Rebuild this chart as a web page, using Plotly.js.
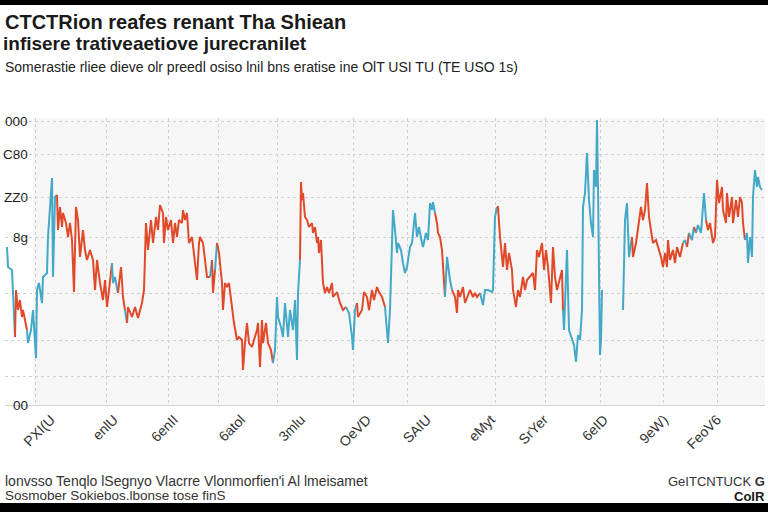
<!DOCTYPE html>
<html><head><meta charset="utf-8">
<script src="https://cdn.plot.ly/plotly-3.0.1.min.js"></script>
<style>html,body{margin:0;padding:0;background:#fff;overflow:hidden} #chart{width:768px;height:512px;}</style>
</head><body><div id="chart"></div>
<script>
const week = [2,3,7,8,10,11,13,15,17,18,22,23,26,28,31,32,34,37,38,42,43,45,47,48,50,52,53,55,57,58,61,63,65,67,69,71,73,75,78,80,82,85,88,90,92,95,98,100,102,104,107,108,110,113,116,118,120,122,123,127,130,133,137,139,141,143,146,148,151,153,155,158,159,161,163,166,168,170,172,174,177,178,180,182,184,187,189,192,194,195,198,200,202,205,207,208,210,212,214,217,218,220,222,224,227,229,232,234,237,238,240,242,244,247,249,252,253,255,257,258,261,263,266,268,270,272,273,276,278,280,282,283,285,288,290,292,293,295,296,297,298,300,302,304,307,308,310,312,313,314,316,318,320,322,324,327,328,332,335,338,341,344,347,348,350,352,353,357,359,362,364,367,369,372,374,377,380,383,385,388,390,392,393,396,398,400,402,405,407,410,412,414,417,418,421,423,425,427,428,430,432,433,435,437,438,440,442,445,447,450,452,453,455,458,460,462,465,468,470,472,475,478,480,483,487,488,490,492,493,495,498,500,502,504,507,508,511,513,515,518,520,522,525,528,530,532,534,537,539,541,543,546,548,550,552,555,557,558,559,562,564,569,571,573,575,577,578,580,582,584,586,588,589,591,592,593,594,595,596,597,608,618,620,622,624,627,628,631,633,636,638,640,642,644,647,648,651,653,656,658,660,662,663,665,668,670,672,675,678,680,682,684,687,689,691,693,696,698,699,701,703,705,708,710,712,714,717,718,721,722,724,727,728,731,733,735,737,738,740,742,743,745,747,748,750,752,753,755,757];
const price = [158,138,135,108,68,115,95,105,88,95,75,62,75,95,47,115,122,102,128,132,168,202,227,128,208,210,175,198,178,192,182,168,182,165,113,198,185,148,175,155,145,155,145,115,145,122,105,125,98,115,142,122,128,112,138,108,95,82,98,88,98,87,102,115,182,155,185,162,188,175,200,192,162,188,175,185,162,182,168,185,182,195,185,192,162,168,152,125,162,168,162,142,128,128,145,112,135,162,152,122,95,122,118,122,95,82,65,68,65,35,62,82,62,58,65,75,82,38,85,62,82,62,55,42,55,108,88,78,68,102,75,68,95,75,105,45,112,145,223,205,212,188,185,178,182,172,178,162,168,152,165,122,112,118,112,122,108,113,102,95,98,92,68,55,95,102,88,95,113,108,95,115,105,118,113,108,98,62,95,195,175,152,162,155,142,132,138,158,162,192,168,178,162,158,172,165,202,195,203,192,182,172,168,155,138,108,148,125,115,108,92,115,108,118,102,108,115,108,112,108,112,100,115,115,113,115,188,198,198,168,138,162,135,152,135,115,98,115,108,128,115,125,128,132,115,155,148,162,135,155,138,102,158,128,115,128,135,95,75,155,75,60,43,70,65,95,198,212,252,205,182,168,235,218,285,218,85,50,65,115,null,95,185,202,148,168,148,162,178,198,185,195,222,188,168,162,165,158,148,138,152,138,165,145,155,142,158,148,162,165,158,172,165,178,172,180,172,195,212,185,175,182,162,168,225,202,218,195,182,212,188,208,182,205,188,208,202,182,165,172,142,168,148,208,235,218,228,218,215];
// lengths of alternating colour runs (first run = rise/teal)
const trendRuns = [5,6,15,25,3,3,1,36,1,2,1,26,14,23,5,11,23,6,3,12,7,30,28,23,2,1,2,1,5,19,10];
const trendKinds = ['rise','fall'];

const yTickVals = [0,29,65,112,168,208,251,284];
const yTickText = ['00','','','','8g','ZZ0','C80','000'];
const xTickVals = [46,109,169,236,296,362,422,486,539,599,659,712,757];
const xTickText = ['PXI(U','enlU','6enII','6atol','3mlu','OeVD','SAIU','eMyt','SrYer','6eID','9eW)','FeoV6','9aIIu'];
const xGridVals = [30,101,163,213,272,348,402,490,540,595,658,712];

const titleLine1 = 'CTCTRion reafes renant Tha Shiean';
const titleLine2 = 'infisere trativeaetiove jurecranilet';
const subtitle = 'Somerastie rliee dieve olr preedl osiso lnil bns eratise ine OlT USI TU (TE USO 1s)';
const note1 = "lonvsso Tenqlo lSegnyo Vlacrre Vlonmorfien'i Al lmeisamet";
const note2 = 'Sosmober Sokiebos.lbonse tose finS';
const source1 = 'GeITCNTUCK <b>G</b>';
const source2 = '<b>CoIR</b>';

const COLORS = {rise:'#44a8c7', fall:'#e04a2a'};
const FONT = 'Liberation Sans, Arial, sans-serif';

const traces = [];
let start = 0;
trendRuns.forEach((len, k) => {
  const kind = trendKinds[k % 2];
  const s = Math.max(0, start - 1);
  const e = start + len;
  traces.push({type:'scatter', mode:'lines', x: week.slice(s, e), y: price.slice(s, e),
    line:{color: COLORS[kind], width: 2}, hoverinfo:'skip', showlegend:false});
  start = e;
});

// pixel -> paper helpers (plot area: x 5..765, y 118..405)
const PX = x => (x - 5) / 760;
const PY = y => (405 - y) / 287;

function ann(text, x, y, size, opts) {
  return Object.assign({text, xref:'paper', yref:'paper', x: PX(x), y: PY(y),
    xanchor:'left', yanchor:'middle', showarrow:false,
    font:{family: FONT, size, color:'#1a1a1a'}}, opts || {});
}

const yLabelAnns = yTickVals.map((v, i) => ({
  text: yTickText[i], xref:'paper', yref:'y', x: PX(29), y: v,
  xanchor:'right', yanchor:'middle', showarrow:false, borderpad: 0,
  font:{family: FONT, size: 13.5, color:'#1e1e1e'}
})).filter(a => a.text !== '');

const layout = {
  width: 768, height: 512,
  margin: {l:5, r:3, t:118, b:107},
  paper_bgcolor: '#ffffff',
  plot_bgcolor: '#f6f6f6',
  showlegend: false,
  xaxis: {
    range: [0, 760], fixedrange: true,
    tickmode: 'array', tickvals: xTickVals, ticktext: xTickText,
    tickangle: -45, ticks: '', showgrid: false, zeroline: false,
    showline: true, linecolor: '#d2d2d2', linewidth: 1,
    tickfont: {family: FONT, size: 14, color: '#333'},
    minor: {tickmode: 'array', tickvals: xGridVals, showgrid: true,
      gridcolor: '#d0d0d0', griddash: 'dot', gridwidth: 1, ticks: ''}
  },
  yaxis: {
    range: [0, 287], fixedrange: true,
    tickmode: 'array', tickvals: yTickVals, ticktext: yTickText,
    showticklabels: false, ticks: '',
    showgrid: true, gridcolor: '#d0d0d0', griddash: 'dot', gridwidth: 1,
    zeroline: false, showline: false
  },
  shapes: [
    {type:'rect', xref:'x', yref:'paper', x0:0, x1:28, y0:0, y1:1, layer:'between',
      fillcolor:'#ffffff', line:{width:0}},
    {type:'rect', xref:'paper', yref:'paper', x0:PX(-5), x1:PX(775), y0:PY(-5), y1:PY(5),
      fillcolor:'#000', line:{width:0}},
    {type:'rect', xref:'paper', yref:'paper', x0:PX(-5), x1:PX(775), y0:PY(503), y1:PY(520),
      fillcolor:'#000', line:{width:0}}
  ],
  annotations: [
    ann('<b>' + titleLine1 + '</b>', 3, 22, 20),
    ann('<b>' + titleLine2 + '</b>', 1, 44, 19),
    ann(subtitle, 3, 67, 14, {font:{family: FONT, size: 14, color:'#222'}}),
    ann(note1, 3, 481, 14, {font:{family: FONT, size: 14, color:'#333'}}),
    ann(note2, 3, 495, 13.5, {font:{family: FONT, size: 13.5, color:'#333'}}),
    ann(source1, 767, 481, 13, {xanchor:'right', font:{family: FONT, size: 13, color:'#333'}}),
    ann(source2, 767, 496, 13, {xanchor:'right'})
  ].concat(yLabelAnns)
};

Plotly.newPlot('chart', traces, layout, {staticPlot: true, displayModeBar: false});
</script>
</body></html>
